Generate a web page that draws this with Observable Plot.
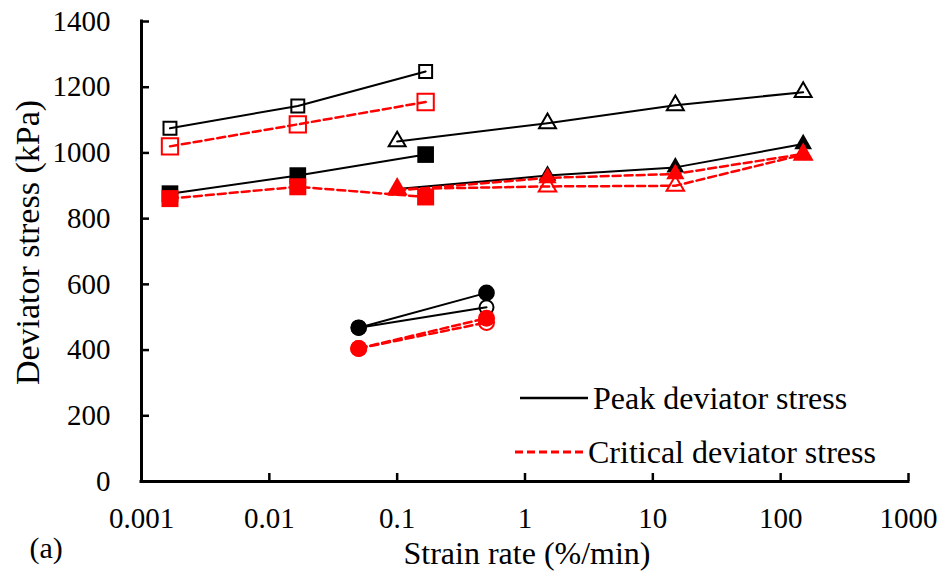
<!DOCTYPE html>
<html>
<head>
<meta charset="utf-8">
<script src="https://cdn.jsdelivr.net/npm/d3@7"></script>
<script src="https://cdn.jsdelivr.net/npm/@observablehq/plot@0.6"></script>
<style>
  html, body { margin: 0; padding: 0; background: #fff; font-family: 'Liberation Serif', serif; }
  #wrap { position: relative; width: 945px; height: 578px; font-family: 'Liberation Serif', serif; }
  #legend { position: absolute; left: 0; top: 0; width: 945px; height: 578px; pointer-events: none; }
  .lg { position: absolute; display: flex; align-items: center; font-size: 32px; color: #000; white-space: nowrap; font-family: 'Liberation Serif', serif; }
  .lg svg { display: block; margin-right: 4px; }
  svg text { font-family: 'Liberation Serif', serif; }
</style>
</head>
<body>
<div id="wrap"><div id="chart"></div><div id="legend"></div></div>
<script>
// ---- data ----
const xTicks = [0.001, 0.01, 0.1, 1, 10, 100, 1000];
const xTickLabels = ["0.001", "0.01", "0.1", "1", "10", "100", "1000"];
const yTicks = [0, 200, 400, 600, 800, 1000, 1200, 1400];

const sqRates = [0.00167, 0.0167, 0.167];
const triRates = [0.1, 1.5, 15, 150];
const cirRates = [0.05, 0.5];

const peakOpenSq = [1075, 1143, 1248];
const critOpenSq = [1020, 1087, 1155];
const peakFilledSq = [876, 931, 995];
const critFilledSq = [861, 897, 866];

const peakOpenTri = [1035, 1090, 1145, 1185];
const critOpenTri = [890, 898, 900, 995];
const peakFilledTri = [890, 931, 956, 1027];
const critFilledTri = [886, 924, 936, 997];

const peakOpenCir = [468, 530];
const critOpenCir = [405, 484];
const peakFilledCir = [468, 574];
const critFilledCir = [405, 497];

const legendLabels = ["Peak deviator stress", "Critical deviator stress"];
const xLabel = "Strain rate (%/min)";
const yLabel = "Deviator stress (kPa)";
const panelLabel = "(a)";

const pts = (rates, vals) => rates.map((x, i) => ({x, y: vals[i]}));

const FONT = "Liberation Serif, serif";
const BLACK = "#000";
const RED = "#ff0000";
const solid = {stroke: BLACK, strokeWidth: 2};
const dashed = {stroke: RED, strokeWidth: 2.5, strokeDasharray: "8,4"};

const line = (d, style) => Plot.line(d, {x: "x", y: "y", ...style});
const dot = (d, opts) => Plot.dot(d, {x: "x", y: "y", ...opts});

const black = [
  [pts(sqRates, peakOpenSq), {symbol: "square", r: 7.3, fill: "none", stroke: BLACK, strokeWidth: 2}],
  [pts(sqRates, peakFilledSq), {symbol: "square", r: 9.4, fill: BLACK}],
  [pts(triRates, peakOpenTri), {symbol: "triangle", r: 6.3, fill: "none", stroke: BLACK, strokeWidth: 2}],
  [pts(triRates, peakFilledTri), {symbol: "triangle", r: 6.6, fill: BLACK}],
  [pts(cirRates, peakOpenCir), {symbol: "circle", r: 7, fill: "none", stroke: BLACK, strokeWidth: 2}],
  [pts(cirRates, peakFilledCir), {symbol: "circle", r: 8.3, fill: BLACK}]
];
const red = [
  [pts(sqRates, critOpenSq), {symbol: "square", r: 9.2, fill: "none", stroke: RED, strokeWidth: 2}],
  [pts(sqRates, critFilledSq), {symbol: "square", r: 9.6, fill: RED}],
  [pts(triRates, critOpenTri), {symbol: "triangle", r: 6.5, fill: "none", stroke: RED, strokeWidth: 2}],
  [pts(triRates, critFilledTri), {symbol: "triangle", r: 6.8, fill: RED}],
  [pts(cirRates, critOpenCir), {symbol: "circle", r: 7.5, fill: "none", stroke: RED, strokeWidth: 2}],
  [pts(cirRates, critFilledCir), {symbol: "circle", r: 8.5, fill: RED}]
];

const marks = [];
for (const [d, o] of black) { marks.push(line(d, solid)); marks.push(dot(d, o)); }
for (const [d, o] of red) { marks.push(line(d, dashed)); marks.push(dot(d, o)); }

const chart = Plot.plot({
  width: 945,
  height: 578,
  marginLeft: 141,
  marginRight: 37,
  marginTop: 21,
  marginBottom: 97,
  style: {fontFamily: FONT, color: "#000", background: "#fff"},
  x: {type: "log", domain: [0.001, 1000]},
  y: {domain: [0, 1400]},
  marks: [
    Plot.axisY({ticks: yTicks, tickSize: 0, tickPadding: 31, fontSize: 29, fontFamily: FONT, tickFormat: (d) => String(d), label: null}),
    Plot.axisY({ticks: yTicks, tickSize: -8, strokeWidth: 2.5, tickFormat: () => "", label: null}),
    Plot.axisX({ticks: xTicks, tickSize: 0, tickPadding: 26, fontSize: 29, fontFamily: FONT, tickFormat: (d) => xTickLabels[xTicks.indexOf(d)], label: null}),
    Plot.axisX({ticks: xTicks, tickSize: -8, strokeWidth: 2.5, tickFormat: () => "", label: null}),
    Plot.text([yLabel], {frameAnchor: "left", textAnchor: "middle", lineAnchor: "middle", rotate: -90, dx: -113, dy: -9, fontSize: 34, fontFamily: FONT}),
    Plot.text([xLabel], {frameAnchor: "bottom", textAnchor: "middle", lineAnchor: "middle", dx: 2, dy: 72, fontSize: 32, fontFamily: FONT}),
    Plot.text([panelLabel], {frameAnchor: "bottom-left", textAnchor: "start", lineAnchor: "middle", dx: -112, dy: 67, fontSize: 30, fontFamily: FONT}),
    Plot.ruleY([0], {strokeWidth: 3, strokeLinecap: "square"}),
    Plot.ruleX([0.001], {y1: 0, y2: 1400, strokeWidth: 3, strokeLinecap: "square"}),
    ...marks
  ]
});
document.getElementById("chart").appendChild(chart);

// legend (HTML overlay inside the plot area)
const legend = document.getElementById("legend");
const legendItems = [
  {label: legendLabels[0], left: 519, top: 379, stroke: BLACK, dash: null, w: 2.5},
  {label: legendLabels[1], left: 514, top: 433, stroke: RED, dash: "8,4", w: 3}
];
for (const it of legendItems) {
  const div = document.createElement("div");
  div.className = "lg";
  div.style.left = it.left + "px";
  div.style.top = it.top + "px";
  const svg = d3.create("svg").attr("width", 70).attr("height", 38);
  svg.append("line").attr("x1", 1).attr("x2", 69).attr("y1", 19).attr("y2", 19)
    .attr("stroke", it.stroke).attr("stroke-width", it.w).attr("stroke-dasharray", it.dash);
  div.appendChild(svg.node());
  const span = document.createElement("span");
  span.textContent = it.label;
  div.appendChild(span);
  legend.appendChild(div);
}
</script>
</body>
</html>
